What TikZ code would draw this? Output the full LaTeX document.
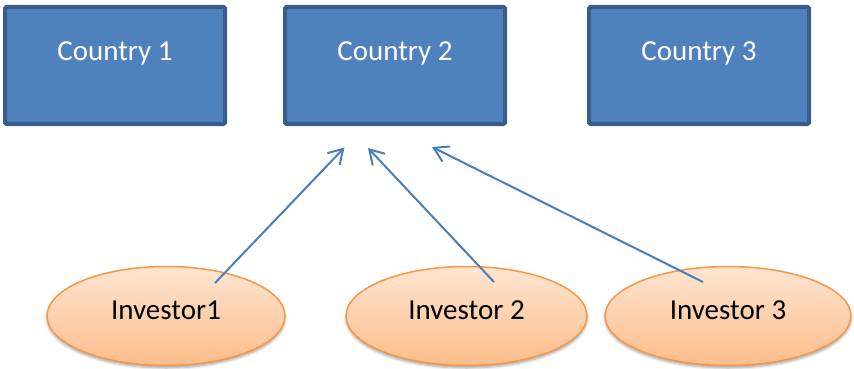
\documentclass[tikz,border=0pt]{standalone}
\usepackage{fontspec}
\setmainfont{Carlito}
\usetikzlibrary{shapes.geometric,arrows.meta,calc,shadows.blur}
\definecolor{boxfill}{HTML}{4F81BD}
\definecolor{boxline}{HTML}{385D8A}
\definecolor{ellline}{HTML}{F79646}
\definecolor{elltop}{HTML}{FEE5D1}
\definecolor{ellbot}{HTML}{FCBD8B}
\definecolor{arrowcol}{HTML}{4A7EBB}
\begin{document}
\begin{tikzpicture}[x=1pt,y=-1pt,
  bigfont/.style={font=\fontsize{29}{34}\selectfont},
  countrybox/.style={draw=boxline,fill=boxfill,line width=4pt,rounded corners=1.5pt,
    minimum width=220pt,minimum height=117pt,inner sep=0pt},
  countrylabel/.style={bigfont,text=white,yshift=14pt,inner sep=0pt,text height=18.7pt,text depth=0pt},
  investor/.style={ellipse,draw=ellline,line width=1.5pt,top color=elltop,bottom color=ellbot,
    minimum height=99pt,inner sep=0pt,
    blur shadow={shadow xshift=0pt,shadow yshift=-2.5pt,shadow blur radius=2.5pt,shadow opacity=35}},
  invlabel/.style={bigfont,text=black,yshift=5.5pt,inner sep=0pt,text height=18.7pt,text depth=0pt},
  link/.style={draw=arrowcol,line width=2pt,-{Straight Barb[length=14pt,width=17pt,line width=2pt]}}
]
\useasboundingbox (0,0) rectangle (854,369);

\node[countrybox,label={[countrylabel]center:Country 1}] (c1) at (115,65.5) {};
\node[countrybox,label={[countrylabel]center:Country 2}] (c2) at (395,65.5) {};
\node[countrybox,label={[countrylabel]center:Country 3}] (c3) at (699,65.5) {};

\node[investor,minimum width=238pt,label={[invlabel]center:Investor1}] (i1) at (166,316) {};
\node[investor,minimum width=241pt,label={[invlabel]center:Investor 2}] (i2) at (466.5,316) {};
\node[investor,minimum width=246pt,label={[invlabel]center:Investor 3}] (i3) at (728,316) {};

\coordinate (h1) at ($(c2.south)+(-50.5,21.5)$);
\coordinate (h2) at ($(c2.south)+(-27,22)$);
\coordinate (h3) at ($(c2.south)+(37,21)$);
\coordinate (t1) at ($(i1.center)+(49,-33)$);
\coordinate (t2) at ($(i2.center)+(27.5,-34)$);
\coordinate (t3) at ($(i3.center)+(-25,-34)$);

\draw[link] (t1) -- (h1);
\draw[link] (t2) -- (h2);
\draw[link] (t3) -- (h3);
\end{tikzpicture}
\end{document}
